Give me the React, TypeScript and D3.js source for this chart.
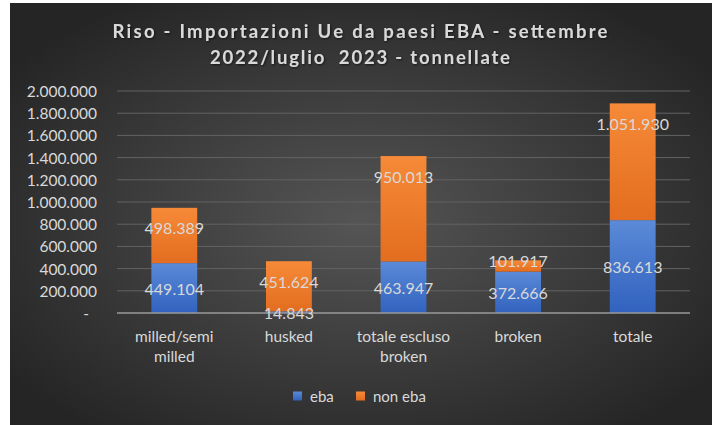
import React, { useMemo } from "react";
import * as d3 from "d3";

const categories = ["milled/semi milled", "husked", "totale escluso broken", "broken", "totale"];
const ebaValues = [449104, 14843, 463947, 372666, 836613];
const nonEbaValues = [498389, 451624, 950013, 101917, 1051930];
const seriesNames = ["eba", "non eba"];
const yTicks = [0, 200000, 400000, 600000, 800000, 1000000, 1200000, 1400000, 1600000, 1800000, 2000000];
const titleLines = ["Riso - Importazioni Ue da paesi EBA - settembre", "2022/luglio  2023 - tonnellate"];

const W = 719;
const H = 425;
const FONT = "Lato, 'Open Sans', sans-serif";
const TXT = "#d9d9d9";

const itLocale = d3.formatLocale({ decimal: ",", thousands: ".", grouping: [3], currency: ["€", ""] });
const fmt = itLocale.format(",d");

function measure(text: string, size: number): number {
  try {
    const c = document.createElement("canvas").getContext("2d");
    if (c) {
      c.font = `${size}px Lato`;
      return c.measureText(text).width;
    }
  } catch (e) {}
  return text.length * size * 0.5;
}

function wrap(text: string, maxW: number, size: number): string[] {
  const words = text.split(" ");
  const lines: string[] = [];
  let cur = "";
  for (const w of words) {
    const t = cur ? cur + " " + w : w;
    if (cur && measure(t, size) > maxW) {
      lines.push(cur);
      cur = w;
    } else cur = t;
  }
  if (cur) lines.push(cur);
  return lines;
}

export default function App() {
  const left = 117, right = 690, top = 91, bottom = 313;
  const x = d3.scaleBand<string>().domain(categories).range([left, right]).paddingInner(0.6).paddingOuter(0.3);
  const y = d3.scaleLinear().domain([0, 2000000]).range([bottom, top]);

  const rows = categories.map((c, i) => ({ cat: c, eba: ebaValues[i], noneba: nonEbaValues[i] }));
  const stack = d3.stack<any>().keys(["eba", "noneba"]);
  const series = stack(rows);
  const colorsId = ["gBlue", "gOrange"];

  const catLines = useMemo(() => categories.map((c) => wrap(c, x.step() - 4, 15.5)), []);

  return (
    <svg width={W} height={H} style={{ position: "absolute", left: 0, top: 0 }} fontFamily={FONT}>
      <defs>
        <radialGradient id="bg" cx="50%" cy="52%" r="62%">
          <stop offset="0%" stopColor="#555555" />
          <stop offset="100%" stopColor="#252525" />
        </radialGradient>
        <linearGradient id="gBlue" x1="0" y1="0" x2="0" y2="1">
          <stop offset="0%" stopColor="#5b8ad8" />
          <stop offset="100%" stopColor="#3162be" />
        </linearGradient>
        <linearGradient id="gOrange" x1="0" y1="0" x2="0" y2="1">
          <stop offset="0%" stopColor="#f68a38" />
          <stop offset="100%" stopColor="#e36d20" />
        </linearGradient>
        <filter id="ts" x="-5%" y="-20%" width="110%" height="140%">
          <feDropShadow dx="1" dy="1" stdDeviation="1" floodColor="#000" floodOpacity="0.6" />
        </filter>
      </defs>
      <rect x={0} y={0} width={W} height={H} fill="#ffffff" />
      <rect x={10} y={3} width={702} height={H - 3} fill="url(#bg)" />

      {/* title */}
      <g fill={TXT} fontWeight="bold" fontSize={18.5} textAnchor="middle" filter="url(#ts)">
        <text x={360} y={38} textLength={495} lengthAdjust="spacing">{titleLines[0]}</text>
        <text x={360} y={64} textLength={300} lengthAdjust="spacing" style={{ whiteSpace: "pre" }}>{titleLines[1]}</text>
      </g>

      {/* grid and y axis */}
      {yTicks.map((t) => (
        <g key={t}>
          {t !== 0 && <line x1={left} x2={right} y1={y(t)} y2={y(t)} stroke="#636363" strokeWidth={1} />}
          <text
            x={t === 0 ? 89 : 97}
            y={y(t)}
            dominantBaseline="central"
            textAnchor="end"
            fill={TXT}
            fontSize={15.5}
          >
            {t === 0 ? "-" : fmt(t)}
          </text>
        </g>
      ))}

      {/* bars */}
      {series.map((s, si) => (
        <g key={s.key}>
          {s.map((d, i) => {
            const y0 = y(d[0]);
            const y1 = y(d[1]);
            return (
              <rect key={i} x={x(categories[i])!} y={y1} width={x.bandwidth()} height={y0 - y1} fill={`url(#${colorsId[si]})`} />
            );
          })}
        </g>
      ))}
      <line x1={left} x2={right} y1={bottom} y2={bottom} stroke="#9a9a9a" strokeWidth={1.5} />

      {/* data labels */}
      {series.map((s, si) => (
        <g key={"l" + s.key} fill={TXT} fontSize={16} textAnchor="middle">
          {s.map((d, i) => {
            const y0 = y(d[0]);
            const y1 = y(d[1]);
            const h = y0 - y1;
            const cx = x(categories[i])! + x.bandwidth() / 2;
            let cy = (y0 + y1) / 2;
            if (si === 1) cy = h < 25 ? y1 : y1 + 20;
            const v = si === 0 ? ebaValues[i] : nonEbaValues[i];
            return (
              <text key={i} x={cx} y={cy} dominantBaseline="central">{fmt(v)}</text>
            );
          })}
        </g>
      ))}

      {/* category labels */}
      {categories.map((c, i) => (
        <text key={c} x={x(c)! + x.bandwidth() / 2} textAnchor="middle" fill={TXT} fontSize={15.5}>
          {catLines[i].map((ln, k) => (
            <tspan key={k} x={x(c)! + x.bandwidth() / 2} y={342 + k * 20}>{ln}</tspan>
          ))}
        </text>
      ))}

      {/* legend */}
      <g fontSize={15} fill={TXT}>
        <rect x={293} y={391.5} width={9} height={9} fill="url(#gBlue)" />
        <text x={310} y={396} dominantBaseline="central">{seriesNames[0]}</text>
        <rect x={356} y={391.5} width={9} height={9} fill="url(#gOrange)" />
        <text x={373} y={396} dominantBaseline="central">{seriesNames[1]}</text>
      </g>
    </svg>
  );
}
